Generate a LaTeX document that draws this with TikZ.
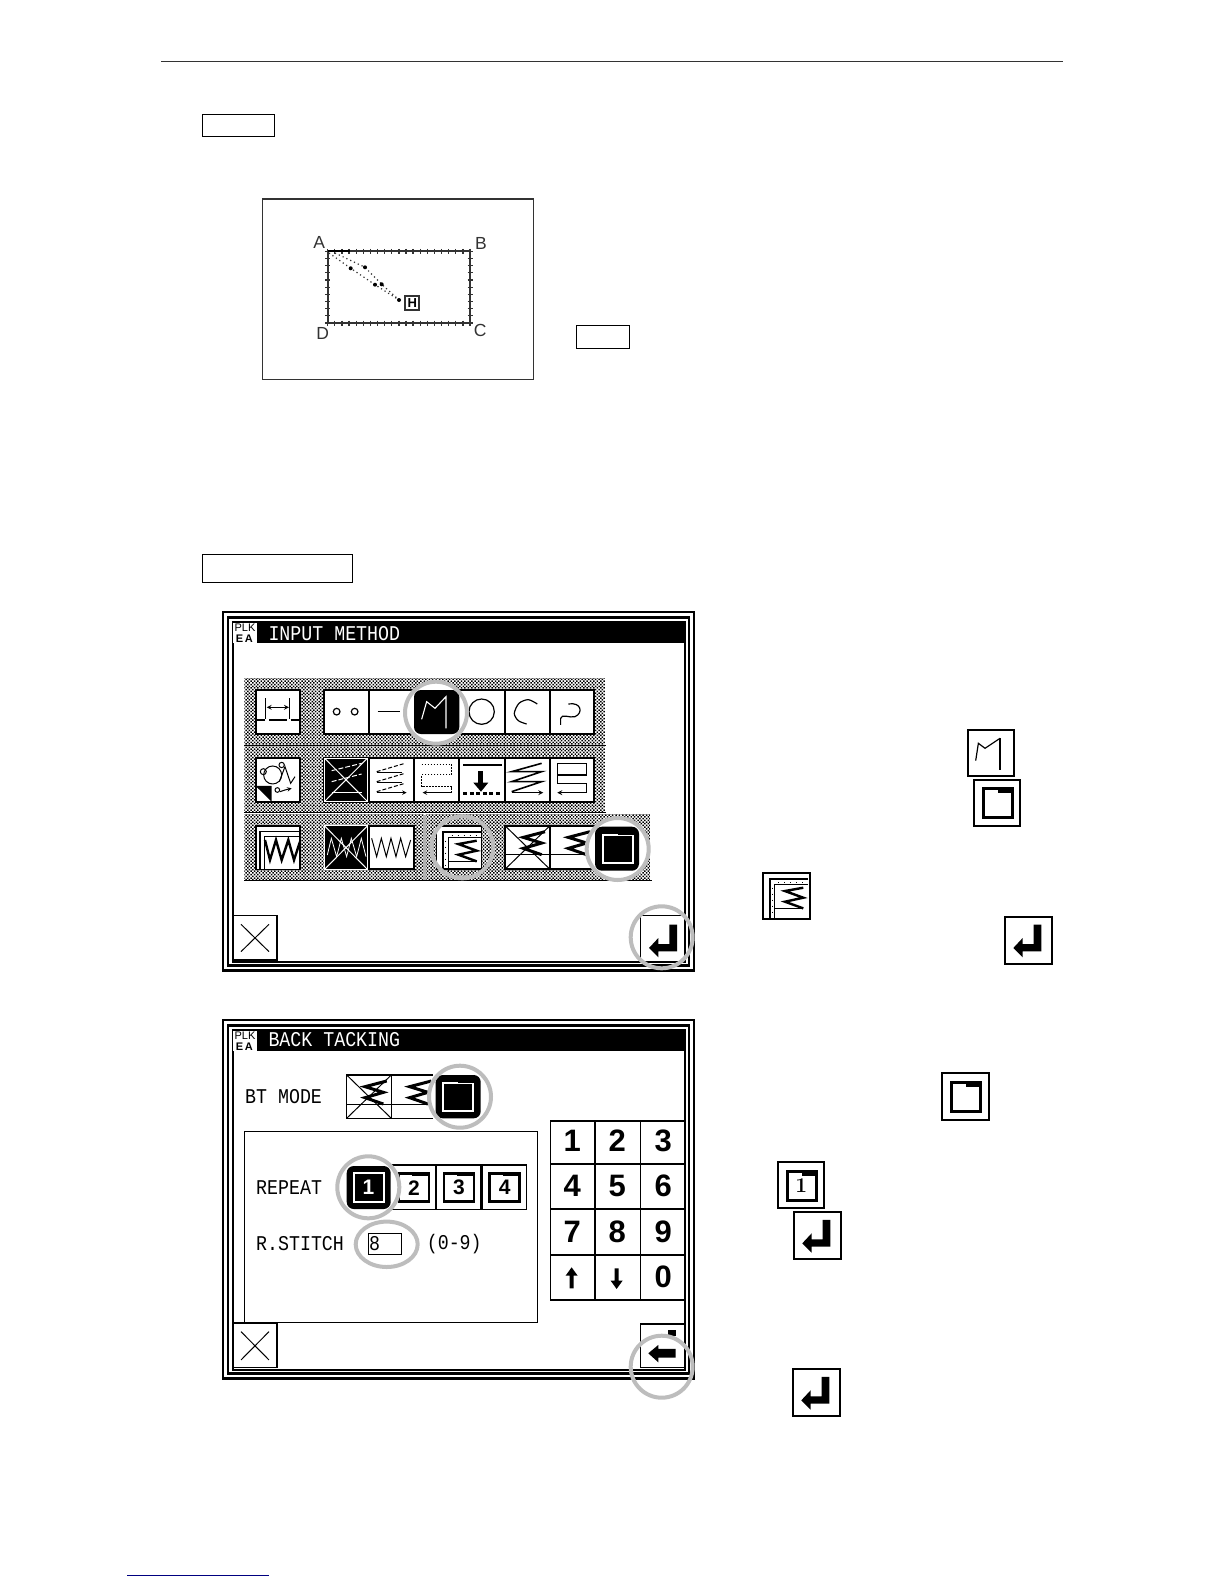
\documentclass[tikz,border=0pt]{standalone}
\usepackage{fontspec}
\setsansfont{Liberation Sans}
\newfontfamily\lcdfont[FakeStretch=0.87]{Liberation Mono}
\usepackage{tikz}
\usetikzlibrary{patterns.meta}
\definecolor{ringgray}{gray}{0.74}
\definecolor{figgray}{gray}{0.2}
\definecolor{linkblue}{rgb}{0,0,0.5}
\tikzset{
  scrline/.style={draw=black,fill=white,line width=1.7pt},
  thinbox/.style={draw=black,line width=1.2pt},
  sideicon/.style={draw=black,fill=white,line width=2pt},
  selbtn/.style={fill=black,rounded corners=7pt},
  ring/.style={draw=ringgray,line width=4pt},
  dither/.style={pattern={Dots[distance=2.4pt,radius=1.06pt,angle=45]},pattern color=black},
  scrtext/.style={font=\fontsize{21}{21}\selectfont\lcdfont,inner sep=0pt,anchor=west},
  figlabel/.style={font=\fontsize{17.5}{17.5}\selectfont\sffamily,text=figgray,inner sep=0pt},
  numkey/.style={font=\fontsize{31}{31}\selectfont\sffamily\bfseries,inner sep=0pt},
  zoomed/.style={x=.3333pt,y=-.3333pt}
}
% icons, all drawn in 1/3 px units from the button corner
\newcommand{\enterarrow}[2]{\begin{scope}[xshift=#1pt,yshift=-#2pt,zoomed]
  \fill (85,23) -- (108,23) -- (108,103) -- (52,103) -- (52,121) -- (24,93) -- (52,63) -- (52,81) -- (85,81) -- cycle;
\end{scope}}
\newcommand{\folderframe}[2]{\begin{scope}[xshift=#1pt,yshift=-#2pt,zoomed]
  \draw[line width=3pt] (27,27) rectangle (114,114);
  \fill (71,23) rectangle (118,40);
\end{scope}}
\newcommand{\rulerzag}[2]{\begin{scope}[xshift=#1pt,yshift=-#2pt,zoomed]
  \draw[line width=2pt] (20,140) -- (20,18) -- (134,18);
  \draw[line width=1pt] (35,140) -- (35,35) -- (134,35);
  \draw[line width=1pt,dash pattern=on 1pt off 5pt] (27,45) -- (27,135);
  \draw[line width=1pt,dash pattern=on 1pt off 5pt] (45,28) -- (130,28);
  \draw[line width=2.4pt] (120,45) -- (65,55) -- (120,75) -- (65,87) -- (120,107);
  \draw[line width=1.6pt] (120,107) -- (35,107);
\end{scope}}
\newcommand{\tackzig}[2]{\begin{scope}[xshift=#1pt,yshift=-#2pt,zoomed]
  \draw[line width=3pt] (120,18) -- (55,35) -- (110,52) -- (55,68) -- (110,87);
\end{scope}}
\newcommand{\repeatbtn}[3]{\begin{scope}[xshift=#1pt,yshift=-1165pt,zoomed]
  \draw[thinbox,fill=white] (0,0) rectangle (133,133);
  \draw[line width=2.5pt] (22,26) rectangle (112,110);
  \fill (62,22) rectangle (115,32);
  \node[font=\fontsize{21}{21}\selectfont\sffamily\bfseries,inner sep=0pt] (#3) at (67,68) {#2};
\end{scope}}
\newcommand{\screenframe}[1]{\begin{scope}[xshift=220pt,yshift=-#1pt,zoomed]
  \draw[line width=2.3pt] (8.5,35) rectangle (1422,1112);
  \draw[line width=2.8pt] (24,52.5) rectangle (1407,1097);
  \draw[line width=2pt] (37.5,66) rectangle (1395,1085);
  \fill (112,68) rectangle (1392,128);
\end{scope}}
\newcommand{\screenlogo}[1]{\begin{scope}[xshift=220pt,yshift=-#1pt,zoomed]
  \fill[white] (40,68) rectangle (112,128);
  \node[font=\fontsize{11}{11}\selectfont\sffamily,inner sep=0pt] at (75,83) {PLK};
  \node[font=\fontsize{11}{11}\selectfont\sffamily\bfseries,inner sep=0pt] at (73,116) {E\,A};
\end{scope}}
\begin{document}
\begin{tikzpicture}[x=1pt,y=-1pt]
  \useasboundingbox (0,0) rectangle (1224,1584);
  \fill[white] (0,0) rectangle (1224,1584);
  % page rules and empty boxes
  \draw[figgray,line width=1.4pt] (161,61.3) -- (1063,61.3);
  \draw[linkblue,line width=1.2pt] (127,1575.3) -- (269,1575.3);
  \draw[line width=1.2pt] (202.3,114.3) rectangle (274.7,136.7);
  \draw[line width=1.2pt] (202.3,554.3) rectangle (352.7,582.3);
  \draw[line width=1.2pt] (576.3,325.3) rectangle (629.7,348.3);
  % small figure
  \draw[figgray,line width=1.3pt] (262.3,199) rectangle (533.7,379.3);
  \draw[figgray,line width=1.8pt] (327.7,251.3) rectangle (470,323);
  \foreach \i in {0,...,20} {
    \draw[figgray,line width=1.3pt] (327.7+\i*7.115,248.8) -- (327.7+\i*7.115,253.8);
    \draw[figgray,line width=1.3pt] (327.7+\i*7.115,320.5) -- (327.7+\i*7.115,325.5);
  }
  \foreach \i in {0,...,10} {
    \draw[figgray,line width=1.3pt] (325.2,251.3+\i*7.17) -- (330.2,251.3+\i*7.17);
    \draw[figgray,line width=1.3pt] (467.5,251.3+\i*7.17) -- (472.5,251.3+\i*7.17);
  }
  \draw[black,line width=2.2pt] (327.7,250.8) -- (350,250.8);
  \draw[figgray,line width=1.2pt,dash pattern=on 1.2pt off 3pt] (329,253) -- (350.7,268.3) -- (375,284.7) -- (399,300);
  \draw[figgray,line width=1.2pt,dash pattern=on 1.2pt off 3pt] (335,253) -- (365,267.3) -- (381.7,284.3) -- (399,300);
  \foreach \px/\py in {350.7/268.3,375/284.7,365/267.3,381.7/284.3,399/300}
    \fill[black] (\px,\py) circle (2);
  \node[figlabel] (ptA) at (319.3,242.3) {A};
  \node[figlabel] (ptB) at (481,243.3) {B};
  \node[figlabel] (ptC) at (480.3,330.7) {C};
  \node[figlabel] (ptD) at (322.7,333.3) {D};
  \node[draw=figgray,line width=1.7pt,minimum size=14pt,inner sep=0pt,font=\fontsize{13}{13}\selectfont\sffamily\bfseries] (ptH) at (412.2,303.2) {H};

  % first screen
  \screenframe{600}
  \screenlogo{600}
  \begin{scope}[xshift=220pt,yshift=-600pt,zoomed]
    \node[scrtext,text=white] (titleinput) at (145,100) {INPUT METHOD};
    \fill[dither] (73,237) rectangle (1155,435);
    \fill[dither] (73,440) rectangle (1155,635);
    \fill[dither] (73,645) rectangle (610,840);
    \fill[dither] (618,645) rectangle (1290,840);
    \fill[black!30] (610,645) rectangle (618,840);
    \draw[line width=1.4pt] (73,437) -- (1157,437);
    \draw[line width=1.4pt] (73,638) -- (1157,638);
    \draw[line width=1.4pt] (73,841) -- (1295,841);
    % buttons
    \foreach \bx in {107} \foreach \by in {270,473,677}
      \draw[scrline] (\bx,\by) rectangle +(133,132);
    \foreach \bx/\ex in {312/447,447/582,582/718,718/855,855/990,990/1123} \foreach \by in {270,473}
      \draw[scrline] (\bx,\by) rectangle (\ex,\by+132);
    \foreach \bx/\ex in {447/582,650/785,855/990,990/1123}
      \draw[scrline] (\bx,677) rectangle (\ex,808);
    \draw[fill=black,draw=white,line width=1pt] (314,475) rectangle (442,604);
    \draw[fill=black,draw=white,line width=1pt] (314,678) rectangle (442,808);
    % row one icons
    \draw[line width=1pt] (137,295) -- (137,358);
    \draw[line width=1pt] (210,295) -- (210,358);
    \draw[line width=1.2pt,<->,>=stealth] (140,322) -- (207,322);
    \draw[line width=2.4pt] (107,360) -- (135,360);
    \draw[line width=2.4pt] (148,360) -- (200,360);
    \draw[line width=2.4pt] (212,360) -- (240,360);
    \draw[line width=1.2pt] (350,335) circle (10);
    \draw[line width=1.2pt] (404,335) circle (10);
    \draw[line width=1.2pt] (473,335) -- (540,335);
    \draw[line width=1.2pt] (785,335) circle (38);
    \draw[line width=1.2pt] plot[smooth] coordinates {(952,312) (925,299) (897,310) (883,340) (895,362) (920,372)};
    \draw[line width=1.2pt] (1022,375) -- (1022,355) .. controls (1025,340) and (1050,355) .. (1065,350) .. controls (1090,340) and (1085,305) .. (1045,312);
    % row two icons
    \draw[line width=1pt] (130,515) circle (9);
    \draw[line width=1pt] (158,525) circle (27);
    \draw[line width=1pt] (185,495) circle (8);
    \draw[line width=1pt] (178,545) -- (195,500) -- (212,550) -- (225,530);
    \draw[line width=1pt] (172,570) circle (7);
    \draw[line width=1pt,->,>=stealth] (180,575) -- (195,570) -- (215,565);
    \fill (107,558) -- (155,558) -- (155,605) -- cycle;
    \draw[white,line width=1pt] (314,475) -- (442,604);
    \draw[white,line width=1pt] (442,475) -- (314,604);
    \draw[white,line width=1pt,dash pattern=on 5pt off 2pt] (335,512) -- (425,490);
    \draw[white,line width=1pt,dash pattern=on 5pt off 2pt] (335,545) -- (425,522);
    \draw[white,line width=1pt] (335,578) -- (425,578);
    \foreach \ly in {490,520,550}
      \draw[line width=1pt,dash pattern=on 4pt off 2pt] (470,\ly+25) -- (555,\ly);
    \draw[line width=1pt] (470,518) -- (545,518);
    \draw[line width=1pt] (470,548) -- (545,548);
    \draw[line width=1pt,->,>=stealth] (470,578) -- (560,578);
    \draw[line width=1pt,dash pattern=on 1.5pt off 1.5pt] (605,493) -- (695,493) -- (695,525) -- (605,525) -- (605,560) -- (695,560) -- (695,578);
    \draw[line width=1pt,->,>=stealth] (695,578) -- (608,578);
    \draw[line width=2.4pt] (730,495) -- (845,495);
    \fill (775,512) rectangle (790,550);
    \fill (760,548) -- (805,548) -- (783,575) -- cycle;
    \draw[line width=2.4pt,dash pattern=on 4pt off 2.5pt] (730,580) -- (845,580);
    \draw[line width=1.6pt] (875,515) -- (965,490) -- (875,515) -- (965,515) -- (875,545) -- (965,545) -- (875,575);
    \draw[line width=1.2pt,->,>=stealth] (875,578) -- (970,578);
    \draw[line width=1.6pt] (1012,530) -- (1012,490) -- (1100,490) -- (1100,525) -- (1012,525) -- (1012,550) -- (1100,550) -- (1100,578);
    \draw[line width=1.2pt,->,>=stealth] (1100,578) -- (1012,578);
    % row three icons
    \draw[line width=1.6pt] (120,808) -- (120,695) -- (240,695);
    \draw[line width=1pt] (133,808) -- (133,710) -- (240,710);
    \draw[line width=2.4pt] (135,720) -- (150,780) -- (168,720) -- (185,780) -- (205,720) -- (222,780) -- (240,725);
    \draw[white,line width=1pt] (314,678) -- (442,808);
    \draw[white,line width=1pt] (442,678) -- (314,808);
    \draw[white,line width=.8pt] (322,765) -- (334,715) -- (350,770) -- (364,715) -- (380,770) -- (394,715) -- (410,770) -- (424,715) -- (438,770);
    \draw[line width=1pt] (455,715) -- (470,770) -- (484,715) -- (499,770) -- (513,715) -- (528,770) -- (542,715) -- (557,770) -- (572,720);
    \draw[line width=1pt] (855,677) -- (990,808);
    \draw[line width=1pt] (990,677) -- (855,808);
    \draw[line width=1pt] (855,765) -- (1120,765);
    % close and enter
    \draw[scrline] (40,947) rectangle (172,1080);
    \draw[line width=1pt] (63,973) -- (147,1055);
    \draw[line width=1pt] (147,973) -- (63,1055);
    \draw[scrline] (1262,947) rectangle (1395,1085);
  \end{scope}
  \rulerzag{436.7}{825.7}
  \tackzig{505}{825.7}
  \tackzig{550}{825.7}
  \enterarrow{641}{917}
  % selected buttons under the rings
  \fill[white] (436,712.7) circle (30);
  \fill[selbtn] (414,690) rectangle (459.3,734);
  \begin{scope}[xshift=220pt,yshift=-600pt,zoomed]
    \draw[white,line width=1.1pt] (605,358) -- (620,305) -- (645,325) -- (678,290) -- (678,385);
  \end{scope}
  \fill[white] (617.7,849) circle (30);
  \fill[selbtn] (595,826.7) rectangle (639,870.7);
  \draw[white,line width=2pt] (602.5,835) rectangle (633,863);
  \fill[black] (618,833.5) rectangle (634.5,835.2);
  \draw[ring] (436,712.7) circle (31);
  \draw[ring] (462.3,847.3) circle (31);
  \draw[ring] (617.7,849) circle (31);
  \draw[ring] (661.7,937.3) circle (31);

  % second screen
  \screenframe{1008}
  \screenlogo{1008}
  \begin{scope}[xshift=220pt,yshift=-1005pt,zoomed]
    \node[scrtext,text=white] (titleback) at (145,105) {BACK TACKING};
    \node[scrtext] (btmode) at (75,275) {BT MODE};
    \draw[thinbox] (380,210) rectangle (514,340);
    \draw[thinbox] (514,210) -- (640,210);
    \draw[thinbox] (514,340) -- (640,340);
    \draw[line width=1pt] (380,210) -- (514,340);
    \draw[line width=1pt] (514,210) -- (380,340);
    \draw[line width=1pt] (380,297) -- (640,297);
    \draw[thinbox] (73,380) rectangle (952,952);
    \node[scrtext] (repeatlab) at (108,547) {REPEAT};
    \node[scrtext] (stitchlab) at (108,717) {R.STITCH};
    \node[scrtext] (rangelab) at (620,717) {(0-9)};
    \draw[line width=1pt] (445,685) rectangle (545,750);
    \node[scrtext] (stitchval) at (447,717) {8};
    \draw[scrline] (40,955) rectangle (172,1088);
    \draw[line width=1pt] (63,980) -- (147,1065);
    \draw[line width=1pt] (147,980) -- (63,1065);
    \draw[scrline] (1262,957) rectangle (1395,1088);
    \fill (1345,975) rectangle (1367,992);
    \fill (1285,1045) -- (1315,1020) -- (1315,1032) -- (1367,1032) -- (1367,1058) -- (1315,1058) -- (1315,1072) -- cycle;
    % keypad
    \fill[white] (992,347) rectangle (1395,885);
    \draw[line width=1.7pt] (992,347) rectangle (1395,885);
    \foreach \kx in {1125,1262} \draw[line width=1.7pt] (\kx,347) -- (\kx,885);
    \foreach \ky in {478,612,750} \draw[line width=1.7pt] (992,\ky) -- (1395,\ky);
    \foreach \lab/\kx/\ky in {1/1057/407,2/1192/407,3/1330/407,4/1057/543,5/1192/543,6/1330/543,7/1057/680,8/1192/680,9/1330/680,0/1330/815}
      \node[numkey] (key\lab) at (\kx,\ky) {\lab};
    \fill (1055,787) -- (1073,812) -- (1061,812) -- (1061,850) -- (1049,850) -- (1049,812) -- (1037,812) -- cycle;
    \fill (1190,852) -- (1172,827) -- (1184,827) -- (1184,790) -- (1196,790) -- (1196,827) -- (1208,827) -- cycle;
  \end{scope}
  \tackzig{346.7}{1075}
  \tackzig{391.3}{1075}
  \repeatbtn{391.7}{2}{rep2}
  \repeatbtn{436.7}{3}{rep3}
  \repeatbtn{482.4}{4}{rep4}
  \fill[white] (460,1096.7) circle (30);
  \fill[selbtn] (435.7,1075) rectangle (480.7,1118.3);
  \draw[white,line width=2pt] (443,1083) rectangle (473,1110.5);
  \fill[black] (458,1081.5) rectangle (474.5,1083.2);
  \fill[white] (368.3,1187.3) circle (30);
  \fill[selbtn] (346.7,1166) rectangle (390.7,1209);
  \draw[white,line width=2pt] (354,1172.5) rectangle (384,1202);
  \node[font=\fontsize{21}{21}\selectfont\sffamily\bfseries,text=white,inner sep=0pt] (rep1) at (368.5,1187.5) {1};
  \draw[ring] (460,1096.7) circle (31);
  \draw[ring] (368.3,1187.3) circle (31);
  \draw[ring] (386.7,1244.3) ellipse (31 and 22.7);
  \draw[ring] (661.7,1366.7) circle (31);

  % icons in the right column
  \draw[sideicon] (967.7,730.3) rectangle +(46,46);
  \begin{scope}[xshift=967.7pt,yshift=-730.3pt,zoomed]
    \draw[line width=1.2pt] (24,91) -- (32,39) -- (52,54) -- (97,24);
    \draw[line width=1.8pt] (97,24) -- (97,119);
  \end{scope}
  \draw[sideicon,line width=1.7pt] (974.3,779.7) rectangle +(46,46);
  \folderframe{974.3}{779.7}
  \draw[sideicon] (763.3,872.7) rectangle +(46.5,46);
  \rulerzag{763.3}{872.7}
  \draw[sideicon] (1005.3,917) rectangle +(46.5,46.5);
  \enterarrow{1005.3}{917}
  \draw[sideicon,line width=1.7pt] (942.3,1073.3) rectangle +(46.5,46.5);
  \folderframe{942.3}{1073.3}
  \draw[sideicon,line width=1.7pt] (778.3,1162.3) rectangle +(45.5,46);
  \folderframe{778.3}{1162.3}
  \node[font=\fontsize{21}{21}\selectfont\bfseries,inner sep=0pt] (sideone) at (801.3,1186) {1};
  \draw[sideicon] (794.3,1212.3) rectangle +(46.5,46.5);
  \enterarrow{794.3}{1212.3}
  \draw[sideicon] (793.3,1369.3) rectangle +(46.5,46.5);
  \enterarrow{793.3}{1369.3}
\end{tikzpicture}
\end{document}
